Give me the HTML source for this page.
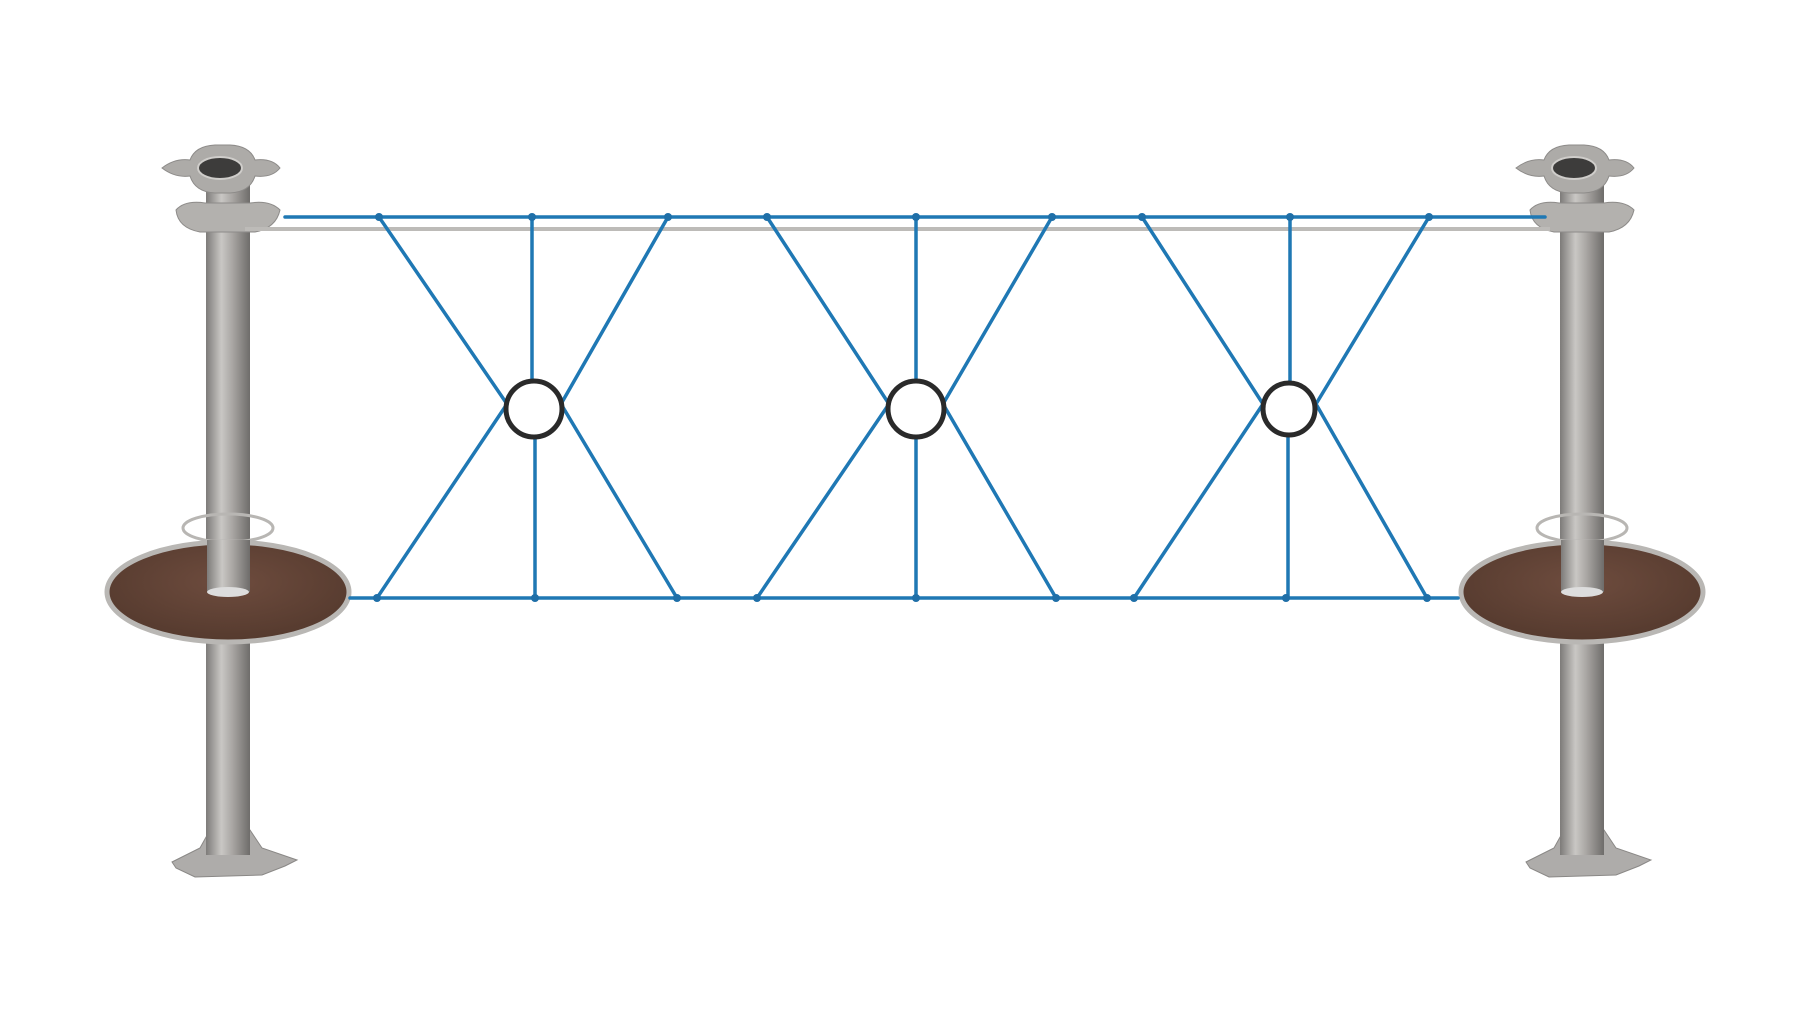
<!DOCTYPE html>
<html><head><meta charset="utf-8"><style>html,body{margin:0;padding:0;background:#fff}svg{display:block}</style></head>
<body>
<svg width="1800" height="1013" viewBox="0 0 1800 1013" xmlns="http://www.w3.org/2000/svg">
<defs>
<linearGradient id="pg" x1="0" x2="1" y1="0" y2="0">
<stop offset="0" stop-color="#7d7b79"/><stop offset="0.35" stop-color="#c9c7c4"/><stop offset="0.6" stop-color="#a9a6a3"/><stop offset="1" stop-color="#6e6c6a"/></linearGradient>
<radialGradient id="dg" cx="0.5" cy="0.4" r="0.6"><stop offset="0" stop-color="#6e4c3e"/><stop offset="1" stop-color="#553a2e"/></radialGradient>
</defs>
<g id="post">
<!-- base -->
<path d="M172,862 L200,848 L210,830 L250,830 L262,848 L297,860 L285,866 L262,875 L195,877 L176,868Z" fill="#aeacaa" stroke="#8a8886"/>
<!-- pole -->
<rect x="206" y="180" width="44" height="675" fill="url(#pg)"/>
<!-- lower flange -->
<path d="M176,210 Q185,200 205,203 L250,203 Q270,200 280,210 Q276,228 255,232 L200,232 Q178,228 176,210Z" fill="#b3b1ae" stroke="#8d8b89"/>
<!-- top plate -->
<path d="M162,168 Q175,158 190,160 Q195,146 215,145 L230,145 Q250,146 255,160 Q272,158 280,168 Q272,178 255,176 Q250,192 230,193 L215,193 Q195,192 190,176 Q175,178 162,168Z" fill="#adaba8" stroke="#8d8b89"/>
<ellipse cx="220" cy="168" rx="22" ry="11" fill="#3d3c3b" stroke="#cfcdca" stroke-width="2"/>
<!-- hoop -->
<ellipse cx="228" cy="528" rx="45" ry="14" fill="none" stroke="#b8b6b3" stroke-width="3"/>
<!-- disc -->
<ellipse cx="228" cy="592" rx="121" ry="50" fill="url(#dg)" stroke="#b9b7b4" stroke-width="5"/>
<rect x="207" y="540" width="43" height="52" fill="url(#pg)"/>
<ellipse cx="228" cy="592" rx="21" ry="5" fill="#ddd"/>
</g>
<use href="#post" transform="translate(1354,0)"/>
<!-- grey rod -->
<line x1="245" y1="229" x2="1550" y2="229" stroke="#bdbbb8" stroke-width="4"/>
<g stroke="#1f78b4" stroke-width="3.5" fill="none" stroke-linecap="round">
<line x1="285" y1="217" x2="1545" y2="217"/>
<line x1="350" y1="598" x2="1458" y2="598"/>
<path d="M379,217 L507,404 L377,598 M668,217 L561,404 L677,598 M532,217 L532,380 M535,438 L535,598"/>
<path d="M767,217 L889,404 L757,598 M1052,217 L943,404 L1056,598 M916,217 L916,380 M916,438 L916,598"/>
<path d="M1142,217 L1263,404 L1134,598 M1429,217 L1316,404 L1427,598 M1290,217 L1290,382 M1288,436 L1288,598"/>
</g>
<g fill="none" stroke="#2a2a2a" stroke-width="5">
<circle cx="534" cy="409" r="28"/><circle cx="916" cy="409" r="28"/><circle cx="1289" cy="409" r="26"/>
</g>
<g fill="#1f6fa8">
<circle cx="379" cy="217" r="4"/><circle cx="532" cy="217" r="4"/><circle cx="668" cy="217" r="4"/><circle cx="767" cy="217" r="4"/><circle cx="916" cy="217" r="4"/><circle cx="1052" cy="217" r="4"/><circle cx="1142" cy="217" r="4"/><circle cx="1290" cy="217" r="4"/><circle cx="1429" cy="217" r="4"/>
<circle cx="377" cy="598" r="4"/><circle cx="535" cy="598" r="4"/><circle cx="677" cy="598" r="4"/><circle cx="757" cy="598" r="4"/><circle cx="916" cy="598" r="4"/><circle cx="1056" cy="598" r="4"/><circle cx="1134" cy="598" r="4"/><circle cx="1286" cy="598" r="4"/><circle cx="1427" cy="598" r="4"/>
</g>
</svg>
</body></html>
